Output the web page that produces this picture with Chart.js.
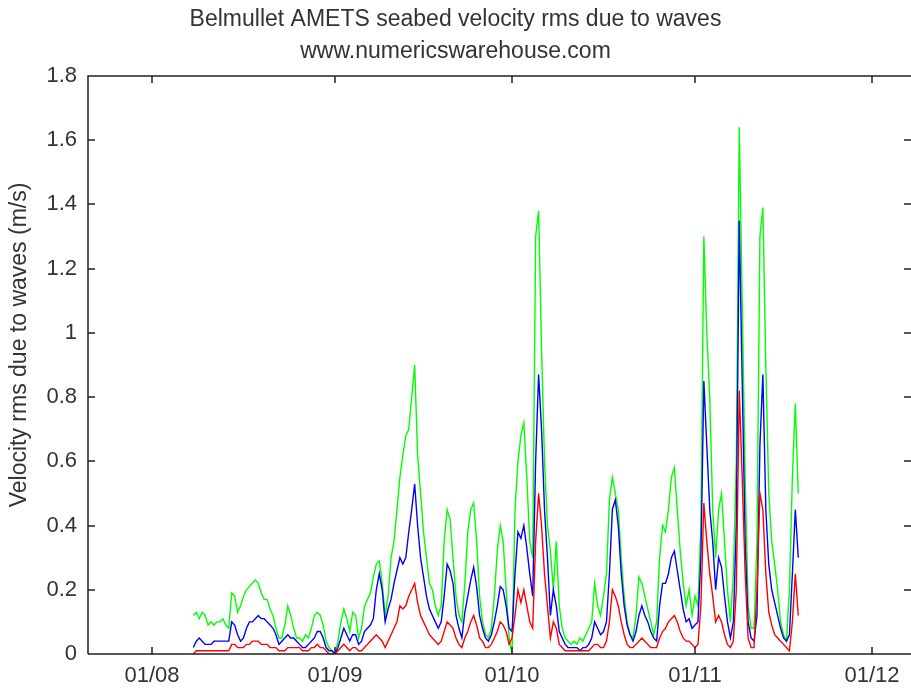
<!DOCTYPE html>
<html>
<head>
<meta charset="utf-8">
<title>Belmullet AMETS seabed velocity rms due to waves</title>
<script src="https://cdn.jsdelivr.net/npm/chart.js@4.4.1/dist/chart.umd.min.js"></script>
<style>
    html, body { margin: 0; padding: 0; background: #fff; }
    #wrap { width: 911px; height: 691px; position: relative; }
</style>
</head>
<body>
<div id="wrap"><canvas id="velocityChart"></canvas></div>
<script>
// time axis: days since 01/08, samples every half day from 8 Aug
const sampleStart = 7;
const sampleStep = 0.5;

const tickDays = [0, 31, 61, 92, 122];
const tickLabels = ["01/08", "01/09", "01/10", "01/11", "01/12"];

const greenRms = [
    0.12, 0.13, 0.11, 0.13, 0.12, 0.09, 0.10, 0.09, 0.10, 0.10,
    0.11, 0.09, 0.08, 0.19, 0.18, 0.13, 0.15, 0.18, 0.20, 0.21,
    0.22, 0.23, 0.22, 0.19, 0.17, 0.17, 0.14, 0.12, 0.08, 0.05,
    0.05, 0.09, 0.15, 0.12, 0.08, 0.05, 0.05, 0.04, 0.06, 0.05,
    0.08, 0.12, 0.13, 0.12, 0.09, 0.04, 0.02, 0.01, 0.00, 0.04,
    0.10, 0.14, 0.11, 0.07, 0.13, 0.12, 0.05, 0.08, 0.15, 0.17,
    0.19, 0.24, 0.28, 0.29, 0.22, 0.12, 0.18, 0.30, 0.35, 0.45,
    0.55, 0.62, 0.68, 0.70, 0.80, 0.90, 0.62, 0.50, 0.38, 0.30,
    0.22, 0.20, 0.15, 0.12, 0.15, 0.35, 0.45, 0.42, 0.30, 0.18,
    0.12, 0.10, 0.22, 0.38, 0.45, 0.47, 0.35, 0.18, 0.10, 0.06,
    0.05, 0.08, 0.18, 0.32, 0.40, 0.35, 0.20, 0.05, 0.00, 0.45,
    0.60, 0.68, 0.72, 0.55, 0.35, 0.30, 1.30, 1.38, 0.95, 0.60,
    0.40, 0.32, 0.20, 0.35, 0.15, 0.08, 0.05, 0.04, 0.03, 0.04,
    0.03, 0.05, 0.04, 0.06, 0.08, 0.10, 0.22, 0.15, 0.12, 0.18,
    0.25, 0.48, 0.55, 0.50, 0.45, 0.30, 0.18, 0.10, 0.06, 0.05,
    0.12, 0.24, 0.22, 0.18, 0.14, 0.10, 0.06, 0.10, 0.30, 0.40,
    0.38, 0.45, 0.55, 0.58, 0.45, 0.32, 0.22, 0.15, 0.20, 0.12,
    0.18, 0.15, 0.40, 1.30, 1.00, 0.80, 0.45, 0.30, 0.45, 0.50,
    0.35, 0.20, 0.10, 0.25, 0.60, 1.64, 1.10, 0.55, 0.15, 0.08,
    0.08, 0.35, 1.30, 1.39, 0.90, 0.50, 0.35, 0.28, 0.20, 0.10,
    0.06, 0.04, 0.20, 0.55, 0.78, 0.50
];

const blueRms = [
    0.02, 0.04, 0.05, 0.04, 0.03, 0.03, 0.03, 0.04, 0.04, 0.04,
    0.04, 0.04, 0.04, 0.10, 0.09, 0.06, 0.04, 0.05, 0.08, 0.10,
    0.10, 0.11, 0.12, 0.11, 0.11, 0.10, 0.09, 0.08, 0.06, 0.03,
    0.04, 0.05, 0.06, 0.05, 0.05, 0.04, 0.03, 0.02, 0.02, 0.03,
    0.04, 0.05, 0.07, 0.07, 0.05, 0.02, 0.01, 0.01, 0.00, 0.02,
    0.05, 0.08, 0.06, 0.04, 0.06, 0.06, 0.03, 0.04, 0.07, 0.08,
    0.09, 0.11, 0.20, 0.25, 0.20, 0.10, 0.14, 0.17, 0.22, 0.26,
    0.30, 0.28, 0.30, 0.38, 0.45, 0.53, 0.40, 0.30, 0.24, 0.18,
    0.14, 0.12, 0.10, 0.08, 0.10, 0.18, 0.28, 0.26, 0.22, 0.12,
    0.08, 0.05, 0.13, 0.18, 0.23, 0.27, 0.21, 0.12, 0.08, 0.05,
    0.04, 0.06, 0.10, 0.15, 0.21, 0.20, 0.15, 0.08, 0.07, 0.25,
    0.38, 0.36, 0.40, 0.33, 0.25, 0.18, 0.60, 0.87, 0.70, 0.45,
    0.30, 0.12, 0.20, 0.15, 0.07, 0.05, 0.03, 0.02, 0.02, 0.02,
    0.02, 0.01, 0.02, 0.02, 0.03, 0.05, 0.10, 0.08, 0.06, 0.07,
    0.10, 0.25, 0.45, 0.48, 0.40, 0.25, 0.15, 0.09, 0.06, 0.04,
    0.07, 0.12, 0.15, 0.12, 0.10, 0.07, 0.05, 0.04, 0.15, 0.22,
    0.22, 0.25, 0.30, 0.32, 0.26, 0.20, 0.14, 0.10, 0.11, 0.08,
    0.09, 0.10, 0.30, 0.85, 0.65, 0.45, 0.35, 0.20, 0.30, 0.27,
    0.18, 0.10, 0.05, 0.10, 0.40, 1.35, 0.85, 0.35, 0.10, 0.05,
    0.04, 0.12, 0.65, 0.87, 0.45, 0.28, 0.20, 0.16, 0.12, 0.08,
    0.05, 0.04, 0.06, 0.25, 0.45, 0.30
];

const redRms = [
    0.00, 0.01, 0.01, 0.01, 0.01, 0.01, 0.01, 0.01, 0.01, 0.01,
    0.01, 0.01, 0.01, 0.03, 0.03, 0.02, 0.02, 0.02, 0.03, 0.03,
    0.04, 0.04, 0.04, 0.03, 0.03, 0.03, 0.02, 0.02, 0.02, 0.01,
    0.01, 0.01, 0.02, 0.02, 0.02, 0.02, 0.02, 0.01, 0.01, 0.01,
    0.02, 0.02, 0.03, 0.02, 0.02, 0.01, 0.00, 0.00, 0.00, 0.01,
    0.02, 0.03, 0.02, 0.01, 0.02, 0.02, 0.01, 0.01, 0.02, 0.03,
    0.04, 0.05, 0.06, 0.05, 0.04, 0.02, 0.04, 0.06, 0.08, 0.10,
    0.15, 0.14, 0.15, 0.18, 0.20, 0.22, 0.16, 0.12, 0.10, 0.08,
    0.06, 0.05, 0.04, 0.03, 0.04, 0.07, 0.10, 0.09, 0.08, 0.05,
    0.03, 0.02, 0.05, 0.07, 0.10, 0.12, 0.09, 0.05, 0.04, 0.02,
    0.02, 0.03, 0.05, 0.07, 0.10, 0.09, 0.07, 0.03, 0.05, 0.12,
    0.20, 0.16, 0.20, 0.15, 0.10, 0.08, 0.35, 0.50, 0.40, 0.25,
    0.15, 0.05, 0.10, 0.08, 0.03, 0.02, 0.01, 0.01, 0.01, 0.01,
    0.01, 0.01, 0.01, 0.01, 0.01, 0.02, 0.03, 0.03, 0.02, 0.02,
    0.04, 0.10, 0.20, 0.18, 0.15, 0.10, 0.06, 0.03, 0.02, 0.02,
    0.03, 0.04, 0.05, 0.04, 0.03, 0.02, 0.02, 0.02, 0.05, 0.07,
    0.08, 0.10, 0.11, 0.12, 0.10, 0.07, 0.05, 0.04, 0.04, 0.03,
    0.02, 0.03, 0.15, 0.47, 0.35, 0.25, 0.18, 0.10, 0.12, 0.10,
    0.06, 0.03, 0.02, 0.04, 0.20, 0.82, 0.55, 0.25, 0.05, 0.02,
    0.02, 0.20, 0.50, 0.45, 0.25, 0.13, 0.09, 0.06, 0.05, 0.04,
    0.03, 0.02, 0.01, 0.10, 0.25, 0.12
];

const sampleDays = greenRms.map((v, i) => sampleStart + i * sampleStep);

function toPoints(values) {
    return values.map((v, i) => ({ x: sampleDays[i], y: v }));
}

const fontFamily = "'Liberation Sans', Arial, sans-serif";
const fontSize = 22;
const textColor = '#333';
const yTitle = 'Velocity rms due to waves (m/s)';

// matlab style box with ticks pointing inwards, plus the y label
const boxTicks = {
    id: 'boxTicks',
    afterDatasetsDraw(chart) {
        const { ctx, chartArea: a, scales: { x, y } } = chart;
        ctx.save();
        ctx.strokeStyle = '#222';
        ctx.lineWidth = 1.5;
        ctx.beginPath();
        ctx.moveTo(a.left, a.bottom);
        ctx.lineTo(a.left, a.top);
        ctx.lineTo(a.right, a.top);
        ctx.moveTo(a.left, a.bottom);
        ctx.lineTo(a.right, a.bottom);
        x.ticks.forEach(t => {
            const px = Math.round(x.getPixelForValue(t.value));
            ctx.moveTo(px, a.bottom); ctx.lineTo(px, a.bottom - 7);
            ctx.moveTo(px, a.top); ctx.lineTo(px, a.top + 7);
        });
        y.ticks.forEach(t => {
            const py = Math.round(y.getPixelForValue(t.value));
            ctx.moveTo(a.left, py); ctx.lineTo(a.left + 7, py);
            ctx.moveTo(a.right, py); ctx.lineTo(a.right - 7, py);
        });
        ctx.stroke();

        // y label sits a little above the middle of the axis
        ctx.translate(20, (a.top + a.bottom) / 2 - 20);
        ctx.rotate(-Math.PI / 2);
        ctx.fillStyle = textColor;
        ctx.font = (fontSize + 1) + "px " + fontFamily;
        ctx.textAlign = 'center';
        ctx.textBaseline = 'middle';
        ctx.fillText(yTitle, 0, 0);
        ctx.restore();
    }
};

const ctx = document.getElementById('velocityChart').getContext('2d');

const lineStyle = { borderWidth: 1.4, pointRadius: 0, tension: 0, fill: false };

new Chart(ctx, {
    type: 'line',
    data: {
        datasets: [
            Object.assign({ label: 'red', data: toPoints(redRms), borderColor: '#ff0000' }, lineStyle),
            Object.assign({ label: 'blue', data: toPoints(blueRms), borderColor: '#0000ff' }, lineStyle),
            Object.assign({ label: 'green', data: toPoints(greenRms), borderColor: '#00ff00' }, lineStyle)
        ]
    },
    options: {
        responsive: true,
        maintainAspectRatio: false,
        animation: false,
        layout: { padding: 0 },
        plugins: {
            legend: { display: false },
            tooltip: { enabled: false },
            title: {
                display: true,
                text: ['Belmullet AMETS seabed velocity rms due to waves', 'www.numericswarehouse.com'],
                color: textColor,
                font: { family: fontFamily, size: fontSize + 1, weight: 'normal', lineHeight: 1.39 },
                padding: { top: 4, bottom: 8 }
            }
        },
        scales: {
            x: {
                type: 'linear',
                min: -10.85,
                max: 128.6,
                grid: { display: false, drawTicks: false },
                border: { display: false },
                afterBuildTicks: scale => {
                    scale.ticks = tickDays.map(d => ({ value: d }));
                },
                afterFit: scale => { scale.height = 37; },
                ticks: {
                    color: textColor,
                    padding: 9,
                    maxRotation: 0,
                    autoSkip: false,
                    font: { family: fontFamily, size: fontSize },
                    callback: value => tickLabels[tickDays.indexOf(value)]
                }
            },
            y: {
                type: 'linear',
                min: 0,
                max: 1.8,
                grid: { display: false, drawTicks: false },
                border: { display: false },
                afterFit: scale => { scale.width = 88; },
                ticks: {
                    stepSize: 0.2,
                    color: textColor,
                    padding: 11,
                    font: { family: fontFamily, size: fontSize },
                    callback: value => String(Number(value.toFixed(1)))
                }
            }
        }
    },
    plugins: [boxTicks]
});
</script>
</body>
</html>
